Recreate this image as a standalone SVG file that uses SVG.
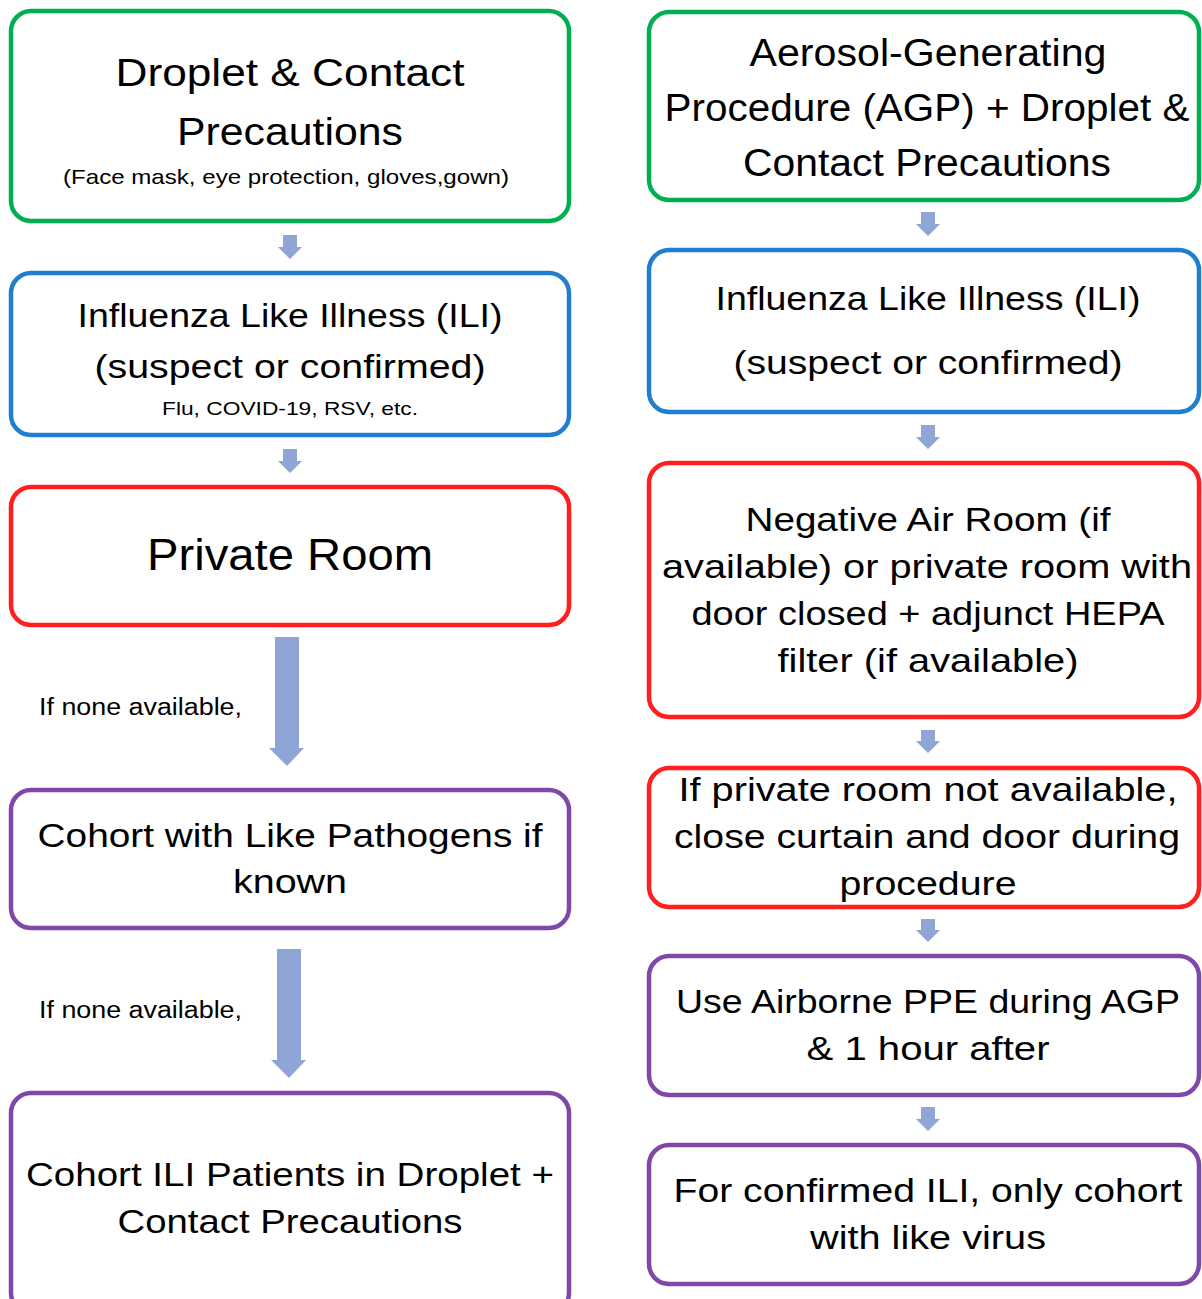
<svg xmlns="http://www.w3.org/2000/svg" width="1202" height="1299" viewBox="0 0 1202 1299">
<style>
.box{fill:#fff;stroke-width:4.5}
.g{stroke:#00B050}.b{stroke:#1F7ECF}.r{stroke:#FF1F1F}.p{stroke:#7F48A8}
text{font-family:"Liberation Sans",Arial,sans-serif;fill:#000;text-anchor:middle}
.t40{font-size:38px}.t36{font-size:34px}.t46{font-size:44px}.s22{font-size:21px}.s20{font-size:19px}.lab{font-size:23px;text-anchor:start}
.arr{fill:#8EA5D5}
</style>
<rect width="1202" height="1299" fill="#fff"/>
<g id="connectors">
<path class="arr" d="M283,235H297V247H302L290,259L278,247H283Z"/>
<path class="arr" d="M283,449H297V461H302L290,473L278,461H283Z"/>
<path class="arr" d="M275,637H299V748H304L287,766L269,748H275Z"/>
<path class="arr" d="M277,949H301V1060H306L289,1078L271,1060H277Z"/>
<path class="arr" d="M921,212H935V224H940L928,236L916,224H921Z"/>
<path class="arr" d="M921,425H935V437H940L928,449L916,437H921Z"/>
<path class="arr" d="M921,730H935V741H940L928,753L916,741H921Z"/>
<path class="arr" d="M921,919H935V930H940L928,942L916,930H921Z"/>
<path class="arr" d="M921,1107H935V1119H940L928,1131L916,1119H921Z"/>
<text class="lab" x="39" y="715" textLength="203" lengthAdjust="spacingAndGlyphs">If none available,</text>
<text class="lab" x="39" y="1018" textLength="203" lengthAdjust="spacingAndGlyphs">If none available,</text>
</g>
<g id="n1">
<rect class="box g" x="11" y="11" width="558" height="210" rx="20"/>
<text class="t40" x="290" y="86" textLength="349" lengthAdjust="spacingAndGlyphs">Droplet &amp; Contact</text>
<text class="t40" x="290" y="145" textLength="226" lengthAdjust="spacingAndGlyphs">Precautions</text>
<text class="s22" x="286" y="184" textLength="446" lengthAdjust="spacingAndGlyphs">(Face mask, eye protection, gloves,gown)</text>
</g>
<g id="n2">
<rect class="box b" x="11" y="273" width="558" height="162" rx="20"/>
<text class="t36" x="290" y="327" textLength="425" lengthAdjust="spacingAndGlyphs">Influenza Like Illness (ILI)</text>
<text class="t36" x="290" y="378" textLength="391" lengthAdjust="spacingAndGlyphs">(suspect or confirmed)</text>
<text class="s20" x="290" y="415" textLength="256" lengthAdjust="spacingAndGlyphs">Flu, COVID-19, RSV, etc.</text>
</g>
<g id="n3">
<rect class="box r" x="11" y="487" width="558" height="138" rx="20"/>
<text class="t46" x="290" y="570" textLength="286" lengthAdjust="spacingAndGlyphs">Private Room</text>
</g>
<g id="n4">
<rect class="box p" x="11" y="790" width="558" height="138" rx="20"/>
<text class="t36" x="290" y="847" textLength="505" lengthAdjust="spacingAndGlyphs">Cohort with Like Pathogens if</text>
<text class="t36" x="290" y="893" textLength="114" lengthAdjust="spacingAndGlyphs">known</text>
</g>
<g id="n5">
<rect class="box p" x="11" y="1093" width="558" height="220" rx="20"/>
<text class="t36" x="290" y="1186" textLength="528" lengthAdjust="spacingAndGlyphs">Cohort ILI Patients in Droplet +</text>
<text class="t36" x="290" y="1233" textLength="345" lengthAdjust="spacingAndGlyphs">Contact Precautions</text>
</g>
<g id="r1">
<rect class="box g" x="649" y="12" width="550" height="188" rx="20"/>
<text class="t40" x="928" y="66" textLength="357" lengthAdjust="spacingAndGlyphs">Aerosol-Generating</text>
<text class="t40" x="927" y="121" textLength="525" lengthAdjust="spacingAndGlyphs">Procedure (AGP) + Droplet &amp;</text>
<text class="t40" x="927" y="176" textLength="368" lengthAdjust="spacingAndGlyphs">Contact Precautions</text>
</g>
<g id="r2">
<rect class="box b" x="649" y="250" width="550" height="162" rx="20"/>
<text class="t36" x="928" y="310" textLength="425" lengthAdjust="spacingAndGlyphs">Influenza Like Illness (ILI)</text>
<text class="t36" x="928" y="374" textLength="389" lengthAdjust="spacingAndGlyphs">(suspect or confirmed)</text>
</g>
<g id="r3">
<rect class="box r" x="649" y="463" width="550" height="254" rx="20"/>
<text class="t36" x="928" y="531" textLength="365" lengthAdjust="spacingAndGlyphs">Negative Air Room (if</text>
<text class="t36" x="927" y="578" textLength="530" lengthAdjust="spacingAndGlyphs">available) or private room with</text>
<text class="t36" x="928" y="625" textLength="473" lengthAdjust="spacingAndGlyphs">door closed + adjunct HEPA</text>
<text class="t36" x="928" y="672" textLength="301" lengthAdjust="spacingAndGlyphs">filter (if available)</text>
</g>
<g id="r4">
<rect class="box r" x="649" y="768" width="550" height="139" rx="20"/>
<text class="t36" x="928" y="801" textLength="499" lengthAdjust="spacingAndGlyphs">If private room not available,</text>
<text class="t36" x="927" y="848" textLength="506" lengthAdjust="spacingAndGlyphs">close curtain and door during</text>
<text class="t36" x="928" y="895" textLength="177" lengthAdjust="spacingAndGlyphs">procedure</text>
</g>
<g id="r5">
<rect class="box p" x="649" y="956" width="550" height="139" rx="20"/>
<text class="t36" x="928" y="1013" textLength="504" lengthAdjust="spacingAndGlyphs">Use Airborne PPE during AGP</text>
<text class="t36" x="928" y="1060" textLength="243" lengthAdjust="spacingAndGlyphs">&amp; 1 hour after</text>
</g>
<g id="r6">
<rect class="box p" x="649" y="1145" width="550" height="139" rx="20"/>
<text class="t36" x="928" y="1202" textLength="509" lengthAdjust="spacingAndGlyphs">For confirmed ILI, only cohort</text>
<text class="t36" x="928" y="1249" textLength="236" lengthAdjust="spacingAndGlyphs">with like virus</text>
</g>
</svg>
